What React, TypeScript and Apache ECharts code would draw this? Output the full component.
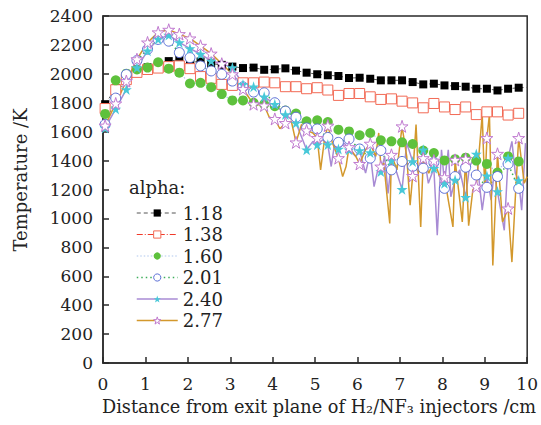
import React, { useEffect, useRef } from "react";
import * as echarts from "echarts";

// marker positions (cm) shared by all series
const markerX = [0.05, 0.3, 0.55, 0.8, 1.05, 1.3, 1.55, 1.8, 2.05, 2.3, 2.55, 2.8, 3.05, 3.3, 3.55, 3.8, 4.05, 4.3, 4.55, 4.8, 5.05, 5.3, 5.55, 5.8, 6.05, 6.3, 6.55, 6.8, 7.05, 7.3, 7.55, 7.8, 8.05, 8.3, 8.55, 8.8, 9.05, 9.3, 9.55, 9.8];

const t118 = [1790, 1900, 1970, 2020, 2045, 2065, 2088, 2097, 2080, 2085, 2071, 2062, 2050, 2040, 2043, 2028, 2031, 2038, 2022, 2008, 1997, 1990, 1985, 1971, 1973, 1966, 1955, 1955, 1955, 1943, 1927, 1932, 1920, 1915, 1911, 1897, 1897, 1885, 1897, 1904];
const t138 = [1760, 1890, 1960, 2010, 2030, 2040, 2050, 2055, 2036, 1981, 1969, 1927, 1920, 1938, 1938, 1943, 1938, 1911, 1911, 1897, 1904, 1888, 1851, 1864, 1864, 1841, 1823, 1827, 1811, 1799, 1765, 1795, 1771, 1753, 1771, 1718, 1737, 1737, 1715, 1727];
const t160 = [1723, 1955, 2001, 2030, 2043, 2080, 2036, 2008, 1933, 1938, 1908, 1860, 1816, 1816, 1800, 1790, 1776, 1746, 1725, 1672, 1679, 1667, 1614, 1602, 1575, 1591, 1540, 1533, 1526, 1515, 1470, 1452, 1401, 1410, 1420, 1400, 1377, 1317, 1429, 1394];
const t201 = [1650, 1832, 1995, 2092, 2170, 2238, 2226, 2147, 2112, 2055, 2020, 1997, 1950, 1910, 1874, 1869, 1800, 1742, 1700, 1626, 1619, 1560, 1526, 1549, 1480, 1417, 1470, 1336, 1394, 1360, 1347, 1387, 1208, 1289, 1354, 1300, 1215, 1290, 1377, 1208];
const t240 = [1626, 1757, 1892, 2043, 2159, 2240, 2268, 2217, 2175, 2136, 2089, 2070, 2043, 1927, 1911, 1841, 1790, 1718, 1660, 1475, 1510, 1510, 1480, 1475, 1470, 1456, 1324, 1400, 1201, 1394, 1475, 1347, 1243, 1266, 1146, 1445, 1294, 1185, 1417, 1262];
const t277 = [1642, 1795, 1950, 2101, 2217, 2287, 2305, 2275, 2245, 2194, 2140, 2070, 1997, 1895, 1790, 1781, 1688, 1660, 1526, 1609, 1556, 1642, 1417, 1493, 1377, 1517, 1359, 1440, 1637, 1294, 1417, 1400, 1285, 1405, 1412, 1220, 1556, 1447, 1069, 1556];

// extra (unmarked) line points
const tail118X = [10];
const tail118T = [1906];
const line240X = [4.95, 5.18, 5.38, 5.45, 5.69, 5.96, 6.19, 6.39, 6.48, 6.64, 6.72, 6.93, 7.16, 7.44, 7.67, 7.88, 7.98, 8.14, 8.2, 8.41, 8.64, 8.94, 9.15, 9.22, 9.46, 9.64, 9.72, 9.87, 9.96];
const line240T = [1533, 1544, 1359, 1498, 1521, 1429, 1313, 1220, 1336, 1429, 1173, 1313, 1521, 1313, 1243, 883, 1475, 1475, 1150, 1336, 1359, 1057, 1127, 1313, 918, 1533, 1313, 1057, 1521];
const line277X = [3.92, 4.17, 4.44, 4.68, 4.95, 5.13, 5.22, 5.41, 5.65, 5.73, 5.96, 6.19, 6.43, 6.5, 6.62, 6.76, 6.93, 7.16, 7.24, 7.38, 7.49, 7.68, 7.94, 8.14, 8.25, 8.47, 8.62, 8.72, 8.94, 9.0, 9.11, 9.19, 9.42, 9.64, 9.73, 9.93, 10.0];
const line277T = [1700, 1620, 1672, 1650, 1591, 1336, 1544, 1521, 1289, 1359, 1429, 1475, 1429, 1591, 1382, 965, 1336, 1429, 1092, 1649, 941, 1313, 1289, 1127, 941, 976, 950, 1200, 1718, 1197, 1718, 675, 976, 698, 1197, 1243, 1289];

const seriesNames = ["1.18", "1.38", "1.60", "2.01", "2.40", "2.77"];
const yTicks = { min: 0, max: 2400, interval: 200 };
const xTicks = { min: 0, max: 10, interval: 1 };

const STAR = "path://M50,0L61.2,34.5L97.6,34.5L68.2,55.9L79.4,90.5L50,69.1L20.6,90.5L31.8,55.9L2.4,34.5L38.8,34.5Z";
const FONT = "DejaVu Serif";

const styles: any[] = [
  { symbol: "rect", size: 8, item: { color: "#000" }, line: { color: "#555", width: 1, type: [4, 3] } },
  { symbol: "rect", size: 10, item: { color: "#fff", borderColor: "#f26a55", borderWidth: 1 }, line: { color: "#f03a2a", width: 1, type: [6, 2, 1, 2] } },
  { symbol: "circle", size: 10, item: { color: "#5ec13c" }, line: { color: "#b0c8ee", width: 1.2, type: [1.5, 2] } },
  { symbol: "circle", size: 10, item: { color: "#fff", borderColor: "#5b6fd6", borderWidth: 1 }, line: { color: "#3fae5c", width: 1.5, type: [1.5, 3] } },
  { symbol: STAR, size: 11, item: { color: "#48c8d8" }, line: { color: "#a88bd4", width: 1.5, type: "solid" } },
  { symbol: STAR, size: 12, item: { color: "#fff", borderColor: "#c07ad0", borderWidth: 1 }, line: { color: "#d3982c", width: 1.5, type: "solid" } },
];

function build(ts: number[], lx: number[] = [], lt: number[] = []) {
  const items: any[] = markerX.map((x, i) => ({ value: [x, ts[i]] }));
  lx.forEach((x, i) => items.push({ value: [x, lt[i]], symbol: "none" }));
  items.sort((a, b) => a.value[0] - b.value[0]);
  return items;
}

const seriesData = [
  build(t118, tail118X, tail118T),
  build(t138),
  build(t160),
  build(t201),
  build(t240, line240X, line240T),
  build(t277, line277X, line277T),
];

export default function App() {
  const ref = useRef<HTMLDivElement>(null);
  useEffect(() => {
    document.body.style.margin = "0";
    const chart = echarts.init(ref.current!, undefined, { renderer: "svg" });
    chart.setOption({
      animation: false,
      backgroundColor: "#fff",
      textStyle: { fontFamily: FONT },
      grid: { left: 103, right: 9.5, top: 16, bottom: 62, show: true, borderColor: "#2a2a2a", borderWidth: 1.5, backgroundColor: "transparent" },
      xAxis: {
        type: "value", ...xTicks,
        axisLine: { show: true, lineStyle: { color: "#2a2a2a", width: 1.5 } },
        axisTick: { show: true, inside: true, length: 6, lineStyle: { color: "#2a2a2a", width: 1.5 } },
        axisLabel: { color: "#222", fontSize: 17, fontFamily: FONT, margin: 12, formatter: (v: number) => String(v) },
        splitLine: { show: false },
      },
      yAxis: {
        type: "value", ...yTicks,
        axisLine: { show: true, lineStyle: { color: "#2a2a2a", width: 1.5 } },
        axisTick: { show: true, inside: true, length: 6, lineStyle: { color: "#2a2a2a", width: 1.5 } },
        axisLabel: { color: "#222", fontSize: 17, fontFamily: FONT, margin: 10, formatter: (v: number) => String(v) },
        splitLine: { show: false },
      },
      legend: {
        orient: "vertical", left: 131, top: 199, itemWidth: 41, itemHeight: 9, itemGap: 3.5,
        textStyle: { fontFamily: FONT, fontSize: 18, color: "#222" },
        data: seriesNames.map((n, i) => ({
          name: n,
          itemStyle: styles[i].item,
          lineStyle: styles[i].line,
        })),
      },
      graphic: [
        { type: "text", left: 129, top: 178, style: { text: "alpha:", font: `18px '${FONT}'`, fill: "#222" } },
        { type: "text", x: 20, y: 180, rotation: Math.PI / 2, style: { text: "Temperature /K", font: `18px '${FONT}'`, fill: "#222", textAlign: "center", textVerticalAlign: "middle" } },
        { type: "text", x: 319, y: 407, style: { text: "Distance from exit plane of H₂/NF₃ injectors /cm", font: `17.7px '${FONT}'`, fill: "#222", textAlign: "center", textVerticalAlign: "middle" } },
      ],
      series: seriesNames.map((n, i) => ({
        name: n, type: "line", data: seriesData[i],
        symbol: styles[i].symbol, symbolSize: styles[i].size,
        itemStyle: styles[i].item,
        lineStyle: styles[i].line,
      })),
    });
    return () => chart.dispose();
  }, []);
  return <div ref={ref} style={{ position: "absolute", left: 0, top: 0, width: 541, height: 425 }} />;
}
